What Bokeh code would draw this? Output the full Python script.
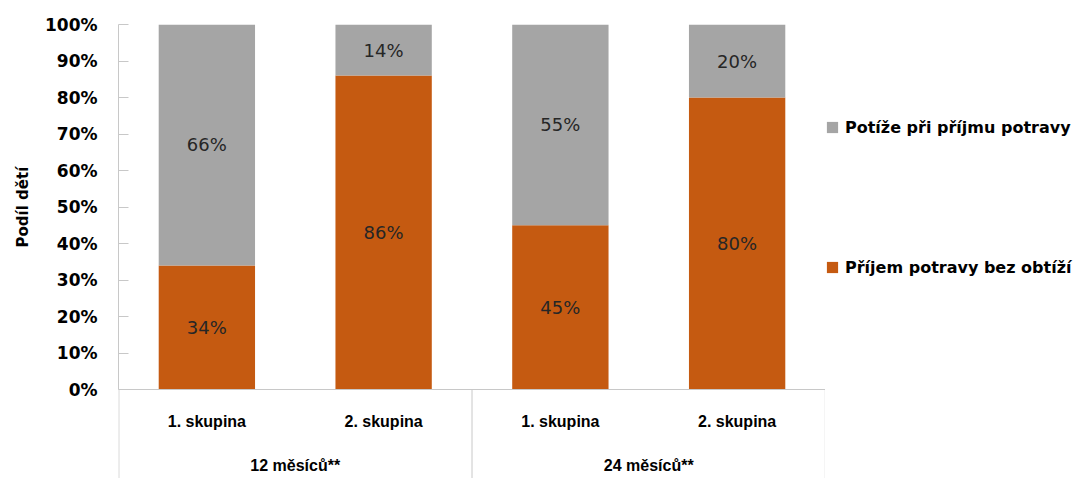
from bokeh.plotting import figure
from bokeh.layouts import row
from bokeh.models import (FactorRange, Range1d, FixedTicker, NumeralTickFormatter,
                          Span, Legend, LegendItem, ColumnDataSource)
from bokeh.core.properties import value
from bokeh.embed import file_html
from bokeh.resources import INLINE

# ---- data ----
groups = ["12 měsíců**", "12 měsíců**", "24 měsíců**", "24 měsíců**"]
subgroups = ["1. skupina", "2. skupina", "1. skupina", "2. skupina"]
group_names = ["12 měsíců**", "24 měsíců**"]
ok_values = [34, 86, 45, 80]          # Příjem potravy bez obtíží
problem_values = [66, 14, 55, 20]     # Potíže při příjmu potravy
series_names = ["Příjem potravy bez obtíží", "Potíže při příjmu potravy"]
y_ticks = [0, 0.1, 0.2, 0.3, 0.4, 0.5, 0.6, 0.7, 0.8, 0.9, 1.0]
y_title = "Podíl dětí"

ORANGE = "#C55A11"
GRAY = "#A5A5A5"
AXIS = "#C8C8C8"

factors = list(zip(groups, subgroups))
x_range = FactorRange(factors=factors, range_padding=0, group_padding=0, factor_padding=0)

p = figure(width=825, height=478, x_range=x_range,
           y_range=Range1d(-89 / 365, 1.0),
           output_backend="svg", toolbar_location=None,
           x_axis_location=None,
           min_border_left=118, min_border_right=0,
           min_border_top=24, min_border_bottom=0)
p.outline_line_color = None
p.xgrid.visible = False
p.ygrid.visible = False
p.background_fill_color = "white"
p.border_fill_color = "white"

ok = [v / 100 for v in ok_values]
pr = [v / 100 for v in problem_values]
src = ColumnDataSource(dict(x=factors, ok=ok, pr=pr))
rs = p.vbar_stack(["ok", "pr"], x="x", width=0.545, source=src,
                  color=[ORANGE, GRAY], line_color=None)

# value labels in the middle of each segment
lab_x = factors + factors
lab_y = [v / 2 for v in ok] + [o + v / 2 for o, v in zip(ok, pr)]
lab_t = [f"{v}%" for v in ok_values] + [f"{v}%" for v in problem_values]
p.text(x=lab_x, y=lab_y, text=lab_t, text_align="center", text_baseline="middle",
       text_font=value("DejaVu Sans"), text_font_size="18px", text_color="#262626")

# y axis
ax = p.yaxis[0]
ax.bounds = (0, 1)
ax.ticker = FixedTicker(ticks=y_ticks)
ax.formatter = NumeralTickFormatter(format="0%")
ax.axis_line_color = AXIS
ax.major_tick_line_color = AXIS
ax.major_tick_in = 10
ax.major_tick_out = 0
ax.minor_tick_line_color = None
ax.major_label_standoff = 21
ax.major_label_text_font = "DejaVu Sans"
ax.major_label_text_font_style = "bold"
ax.major_label_text_font_size = "17px"
ax.major_label_text_color = "black"
# leading no-break spaces lift the title so it centres on the 0-100 % span
ax.axis_label = "\u00a0" * 17 + y_title
ax.axis_label_standoff = 10
ax.axis_label_text_font = "DejaVu Sans"
ax.axis_label_text_font_style = "bold"
ax.axis_label_text_font_size = "15px"
ax.axis_label_text_color = "black"

# category axis drawn inside the lower part of the frame
p.add_layout(Span(location=0, dimension="width", line_color=AXIS, line_width=1))
p.segment(x0=[0.002, 2, 3.999], y0=[0, 0, 0], x1=[0.002, 2, 3.999], y1=[-0.3, -0.3, -0.3],
          line_color=AXIS, line_width=1)
p.text(x=factors, y=[-0.088] * 4, text=subgroups, text_align="center",
       text_baseline="middle", text_font=value("Liberation Sans"),
       text_font_style="bold", text_font_size="16px", text_color="black")
p.text(x=group_names, y=[-0.208] * 2, text=group_names, text_align="center",
       text_baseline="middle", text_font=value("Liberation Sans"),
       text_font_style="bold", text_font_size="16px", text_color="black")

# legend in a companion figure to the right (zero-height proxy bars)
q = figure(width=264, height=478, x_range=Range1d(0, 1), y_range=Range1d(0, 1),
           output_backend="svg", toolbar_location=None,
           x_axis_location=None, y_axis_location=None,
           min_border=0)
q.outline_line_color = None
q.xgrid.visible = False
q.ygrid.visible = False
lr_gray = q.vbar(x=[0.5], top=[0], bottom=[0], width=0.5, color=GRAY, line_color=None)
lr_orange = q.vbar(x=[0.5], top=[0], bottom=[0], width=0.5, color=ORANGE, line_color=None)
lg = Legend(items=[LegendItem(label=series_names[1], renderers=[lr_gray]),
                   LegendItem(label=series_names[0], renderers=[lr_orange])],
            location=(0, 201), spacing=120,
            margin=0, padding=0, border_line_color=None, background_fill_alpha=0,
            glyph_width=14, glyph_height=14, label_standoff=6, label_height=20,
            label_text_font="DejaVu Sans", label_text_font_style="bold",
            label_text_font_size="16px", label_text_color="black")
q.add_layout(lg)

layout = row(p, q)
open("out.html", "w").write(file_html(layout, INLINE))
